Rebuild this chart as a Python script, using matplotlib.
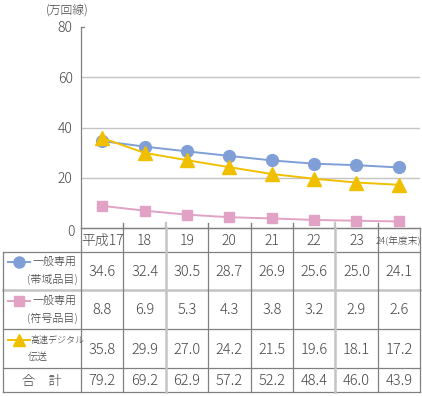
import matplotlib
matplotlib.use("Agg")
import matplotlib.pyplot as plt
from matplotlib.lines import Line2D

plt.rcParams['font.family'] = ['Noto Sans CJK JP', 'DejaVu Sans']
plt.rcParams['font.weight'] = 'light'

years = ["平成17", "18", "19", "20", "21", "22", "23", "24(年度末)"]
band = [34.6, 32.4, 30.5, 28.7, 26.9, 25.6, 25.0, 24.1]
code = [8.8, 6.9, 5.3, 4.3, 3.8, 3.2, 2.9, 2.6]
digital = [35.8, 29.9, 27.0, 24.2, 21.5, 19.6, 18.1, 17.2]
total = [79.2, 69.2, 62.9, 57.2, 52.2, 48.4, 46.0, 43.9]
yticks = [0, 20, 40, 60, 80]
unit = "(万回線)"

W, H = 422, 396
fig = plt.figure(figsize=(W / 100, H / 100), dpi=100)

TXT = '#444444'
LINE = '#808080'
LIGHT = '#c4c4c4'
BLUE = '#7f9fd6'
PINK = '#e2a2c5'
YEL = '#f0c000'

x_left, x_right = 81, 420
y_top, y_axis = 27, 228
n = len(years)
colw = (x_right - x_left) / n

# main chart
ax = fig.add_axes([x_left / W, 1 - y_axis / H, (x_right - x_left) / W, (y_axis - y_top) / H])
ax.set_xlim(-0.5, n - 0.5)
ax.set_ylim(0, 80)
for s in ['top', 'right']:
    ax.spines[s].set_visible(False)
ax.spines['left'].set_color(LINE)
ax.spines['bottom'].set_color(LINE)
ax.spines['left'].set_linewidth(0.9)
ax.spines['bottom'].set_linewidth(0.9)
ax.set_yticks(yticks)
ax.set_yticklabels(["" if v == 0 else str(v) for v in yticks], fontsize=10, color=TXT)
ax.tick_params(axis='y', length=0, pad=6)
ax.set_xticks([])
for v in yticks[1:4]:
    ax.axhline(v, color=LIGHT, lw=1.0, zorder=0)
# short tick at top
ax.plot([-0.5, -0.42], [80, 80], color=LINE, lw=0.9, clip_on=False)
# upward ticks at column boundaries
for i in range(1, n):
    c = LIGHT if i in (2, 6) else LINE
    ax.plot([i - 0.5, i - 0.5], [0, 1.8], color=c, lw=1.0 if c == LINE else 1.6, clip_on=False)

xs = list(range(n))
ax.plot(xs, band, color=BLUE, lw=1.4, marker='o', ms=8.5, mfc=BLUE, mec=BLUE, zorder=3)
ax.plot(xs, code, color=PINK, lw=1.4, marker='s', ms=7, mfc=PINK, mec=PINK, zorder=3)
ax.plot(xs, digital, color=YEL, lw=1.4, marker='^', ms=9.5, mfc=YEL, mec=YEL, zorder=4)

fig.text(67 / W, 1 - 10 / H, unit, fontsize=8.5, color=TXT, ha='center', va='center')

# table
tab = fig.add_axes([0, 0, 1, 1])
tab.set_xlim(0, W)
tab.set_ylim(H, 0)
tab.axis('off')

rows_y = [228, 252, 290, 329, 368, 392]
col_x = [x_left + i * colw for i in range(n + 1)]
tab_left = 3

# horizontal lines
tab.plot([x_left, x_right], [rows_y[0], rows_y[0]], color=LINE, lw=0.9)
for j, yv in enumerate(rows_y[1:], start=1):
    c, lw = (LIGHT, 1.8) if j == 2 else (LINE, 0.9)
    tab.plot([tab_left, x_right], [yv, yv], color=c, lw=lw)
# vertical lines
tab.plot([tab_left, tab_left], [rows_y[1], rows_y[-1]], color=LINE, lw=0.9)
for i, xv in enumerate(col_x):
    c, lw = (LIGHT, 1.8) if i in (2, 6) else (LINE, 0.9)
    tab.plot([xv, xv], [rows_y[0], rows_y[-1]], color=c, lw=lw)

# header
for i, lab in enumerate(years):
    cx = x_left + (i + 0.5) * colw
    fs = 7 if i == n - 1 else 10
    tab.text(cx, (rows_y[0] + rows_y[1]) / 2 + 1, lab, fontsize=fs, color=TXT,
             ha='center', va='center')
tab.text(75, 232, "0", fontsize=10, color=TXT, ha='right', va='center')

series = [band, code, digital, total]
for r, vals in enumerate(series):
    cy = (rows_y[r + 1] + rows_y[r + 2]) / 2 + 1
    for i, v in enumerate(vals):
        cx = x_left + (i + 0.5) * colw
        tab.text(cx, cy, f"{v:.1f}", fontsize=10.5, color=TXT, ha='center', va='center')

# row labels with legend keys
def key(y, color, marker, ms):
    tab.add_line(Line2D([8, 30], [y, y], color=color, lw=1.4))
    tab.add_line(Line2D([19], [y], marker=marker, ms=ms, mfc=color, mec=color, lw=0))

key(262, BLUE, 'o', 8)
tab.text(32, 262, "一般専用", fontsize=7.9, color=TXT, ha='left', va='center')
tab.text(78, 280, "(帯域品目)", fontsize=7.9, color=TXT, ha='right', va='center')
key(301, PINK, 's', 7)
tab.text(32, 301, "一般専用", fontsize=7.9, color=TXT, ha='left', va='center')
tab.text(78, 319, "(符号品目)", fontsize=7.9, color=TXT, ha='right', va='center')
key(340, YEL, '^', 9)
tab.text(30, 340, "高速デジタル", fontsize=6.5, color=TXT, ha='left', va='center')
tab.text(28, 357, "伝送", fontsize=7.2, color=TXT, ha='left', va='center')
tab.text(42, 381, "合　計", fontsize=9.5, color=TXT, ha='center', va='center')

fig.savefig("out.png", dpi=100)
